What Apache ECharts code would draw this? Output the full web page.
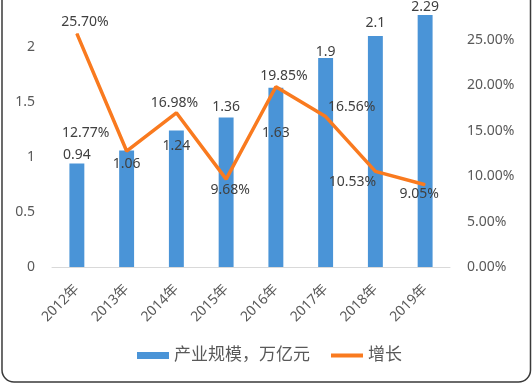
<!DOCTYPE html>
<html>
<head>
<meta charset="utf-8">
<script src="https://cdn.jsdelivr.net/npm/echarts@6/dist/echarts.min.js"></script>
<style>
html,body{margin:0;padding:0;background:#fff;}
#chart{width:532px;height:385px;}
</style>
</head>
<body>
<div id="chart"></div>
<script>
const categories = ['2012年','2013年','2014年','2015年','2016年','2017年','2018年','2019年'];
const scaleValues = [0.94, 1.06, 1.24, 1.36, 1.63, 1.9, 2.1, 2.29];
const growthValues = [0.2570, 0.1277, 0.1698, 0.0968, 0.1985, 0.1656, 0.1053, 0.0905];
const leftTicks = {min: 0, max: 2.427, interval: 0.5};
const rightTicks = {min: 0, max: 0.294, interval: 0.05};
const seriesNames = ['产业规模，万亿元', '增长'];

// label placement (style only)
const barLabelOffsets = [[0,3],[0,26],[0,27],[0,2],[0,57],[0,6],[0,-1],[0,4]];
const lineLabelOffsets = [[8,-12],[-41,-18],[-2,-10],[4,11],[8,-11],[26,-10],[-23,11],[-6,9]];

const FONT = '"Noto Sans", "Noto Sans CJK SC", sans-serif';
const chart = echarts.init(document.getElementById('chart'), null, {renderer: 'canvas'});

chart.setOption({
  animation: false,
  backgroundColor: '#fff',
  textStyle: {fontFamily: FONT},
  grid: {left: 52, right: 82, top: 0, bottom: 118, containLabel: false},
  legend: {
    left: 137, top: 347, padding: 0,
    itemGap: 21,
    itemWidth: 32, itemHeight: 7,
    textStyle: {fontFamily: FONT, fontSize: 17, color: '#595959'},
    data: [
      {name: seriesNames[0], icon: 'rect'},
      {name: seriesNames[1], icon: 'path://M0,0H32V4H0Z'}
    ]
  },
  xAxis: {
    type: 'category',
    data: categories,
    axisLine: {lineStyle: {color: '#D9D9D9', width: 1}},
    axisTick: {show: false},
    axisLabel: {rotate: 45, margin: 20, fontSize: 14, color: '#595959', fontFamily: FONT, interval: 0}
  },
  yAxis: [{
    type: 'value', min: leftTicks.min, max: leftTicks.max, interval: leftTicks.interval,
    splitLine: {show: false}, axisLine: {show: false}, axisTick: {show: false},
    axisLabel: {showMaxLabel: false, margin: 17, fontSize: 14, color: '#595959', fontFamily: FONT,
      formatter: v => v > 2.01 ? '' : String(v)}
  }, {
    type: 'value', min: rightTicks.min, max: rightTicks.max, interval: rightTicks.interval,
    splitLine: {show: false}, axisLine: {show: false}, axisTick: {show: false},
    axisLabel: {showMaxLabel: false, margin: 17, fontSize: 14, color: '#595959', fontFamily: FONT,
      formatter: v => v > 0.2501 ? '' : (v * 100).toFixed(2) + '%'}
  }],
  series: [{
    name: seriesNames[0],
    type: 'bar',
    yAxisIndex: 0,
    barWidth: '30%',
    itemStyle: {color: '#4A94D7'},
    data: scaleValues.map((v, i) => ({
      value: v,
      label: {show: true, position: 'top', offset: barLabelOffsets[i]}
    })),
    label: {fontSize: 14, color: '#404040', fontFamily: FONT, formatter: p => String(p.value)},
    z: 2
  }, {
    name: seriesNames[1],
    type: 'line',
    yAxisIndex: 1,
    symbol: 'circle',
    symbolSize: 1,
    lineStyle: {color: '#F97A1F', width: 3.5},
    itemStyle: {color: '#F97A1F'},
    data: growthValues.map((v, i) => ({
      value: v,
      label: {show: true, position: 'inside', offset: lineLabelOffsets[i]}
    })),
    label: {fontSize: 14, color: '#404040', fontFamily: FONT,
      formatter: p => (p.value * 100).toFixed(2) + '%'},
    z: 3
  }],
  graphic: [{
    type: 'rect',
    shape: {x: 2, y: -20, width: 528.5, height: 402, r: 12},
    style: {fill: 'none', stroke: '#3a3a3a', lineWidth: 1.5},
    silent: true, z: 100
  }]
});
</script>
</body>
</html>
